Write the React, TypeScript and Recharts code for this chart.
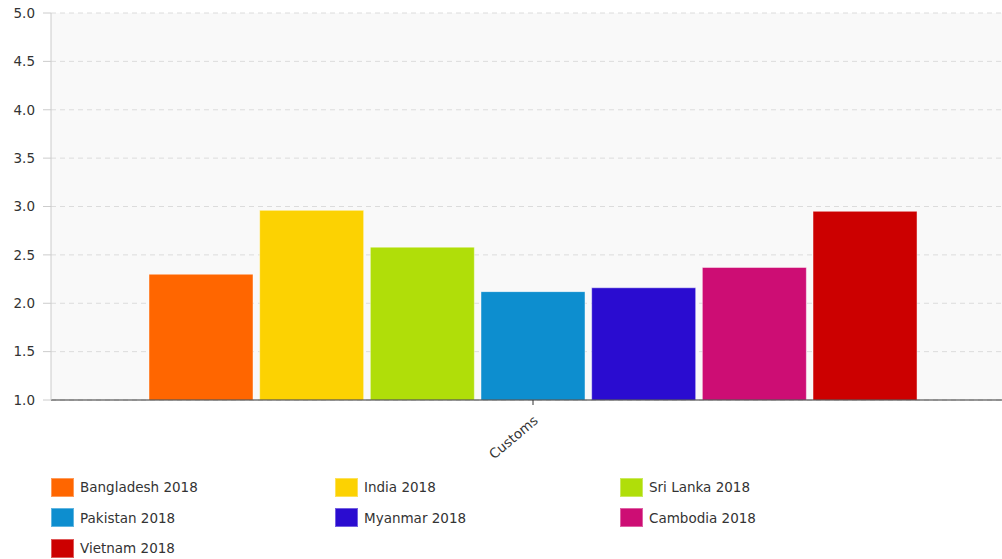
import React from 'react';
import {
  BarChart,
  Bar,
  XAxis,
  YAxis,
  CartesianGrid,
  Legend,
} from 'recharts';

const categories = ['Customs'];
const countries = [
  'Bangladesh 2018',
  'India 2018',
  'Sri Lanka 2018',
  'Pakistan 2018',
  'Myanmar 2018',
  'Cambodia 2018',
  'Vietnam 2018',
];
const values = [2.3, 2.96, 2.58, 2.12, 2.16, 2.37, 2.95];
const colors = ['#ff6600', '#fcd202', '#b0de09', '#0d8ecf', '#2a0cd0', '#cd0d74', '#cc0000'];
const yTicks = [1, 1.5, 2, 2.5, 3, 3.5, 4, 4.5, 5];

const FONT = '"DejaVu Sans", Verdana, sans-serif';

// one row per category, one key per country
const chartData = categories.map((name) => {
  const row: Record<string, string | number> = { name };
  countries.forEach((c, i) => {
    row[c] = values[i];
  });
  return row;
});

const RotatedTick = (props: any) => {
  const { x, y, payload } = props;
  return (
    <g transform={`translate(${x + 6},${y + 15}) rotate(-40)`}>
      <text x={0} y={0} textAnchor="end" fill="#333" fontSize={13.5} fontFamily={FONT}>
        {payload.value}
      </text>
    </g>
  );
};

// legend keeps the series order (recharts would sort it by name)
const LegendGrid = () => (
  <div
    style={{
      height: 90,
      boxSizing: 'border-box',
      paddingTop: 3,
      paddingLeft: 51,
      display: 'grid',
      gridTemplateColumns: '284px 285px 285px',
      gridTemplateRows: '30.5px 30.5px 30.5px',
      fontFamily: FONT,
      fontSize: 13.5,
      color: '#333',
    }}
  >
    {countries.map((c, i) => (
      <div key={c} style={{ display: 'flex', alignItems: 'center' }}>
        <span
          style={{
            width: 23,
            height: 19,
            boxSizing: 'border-box',
            background: colors[i],
            border: '1px solid rgba(255,255,255,0.35)',
            marginRight: 6,
            display: 'inline-block',
          }}
        />
        <span>{c}</span>
      </div>
    ))}
  </div>
);

export default function App() {
  return (
    <div
      style={{
        position: 'fixed',
        left: 0,
        top: 0,
        width: 1002,
        height: 559,
        overflow: 'hidden',
        background: '#fff',
      }}
    >
      <BarChart
        width={1020}
        height={559}
        data={chartData}
        margin={{ top: 13, right: 5, left: 0, bottom: 0 }}
        barSize={104}
        barGap={6.67}
      >
        <CartesianGrid
          vertical={false}
          stroke="#dcdcdc"
          strokeDasharray="5 4"
          fill="#f9f9f9"
        />
        <XAxis
          dataKey="name"
          height={69}
          axisLine={{ stroke: '#333' }}
          tickLine={{ stroke: '#333' }}
          tickSize={5}
          tick={<RotatedTick />}
          interval={0}
        />
        <YAxis
          domain={[1, 5]}
          ticks={yTicks}
          width={51}
          axisLine={{ stroke: '#ccc' }}
          tickLine={{ stroke: '#ccc' }}
          tickSize={8}
          tickMargin={8}
          tick={{ fill: '#333', fontSize: 13.5, fontFamily: FONT }}
          tickFormatter={(v: number) => v.toFixed(1)}
          allowDataOverflow
        />
        <Legend verticalAlign="bottom" content={<LegendGrid />} />
        {countries.map((c, i) => (
          <Bar
            key={c}
            dataKey={c}
            name={c}
            fill={colors[i]}
            stroke="#ffffff"
            strokeOpacity={0.45}
            strokeWidth={1}
            isAnimationActive={false}
          />
        ))}
      </BarChart>
    </div>
  );
}
